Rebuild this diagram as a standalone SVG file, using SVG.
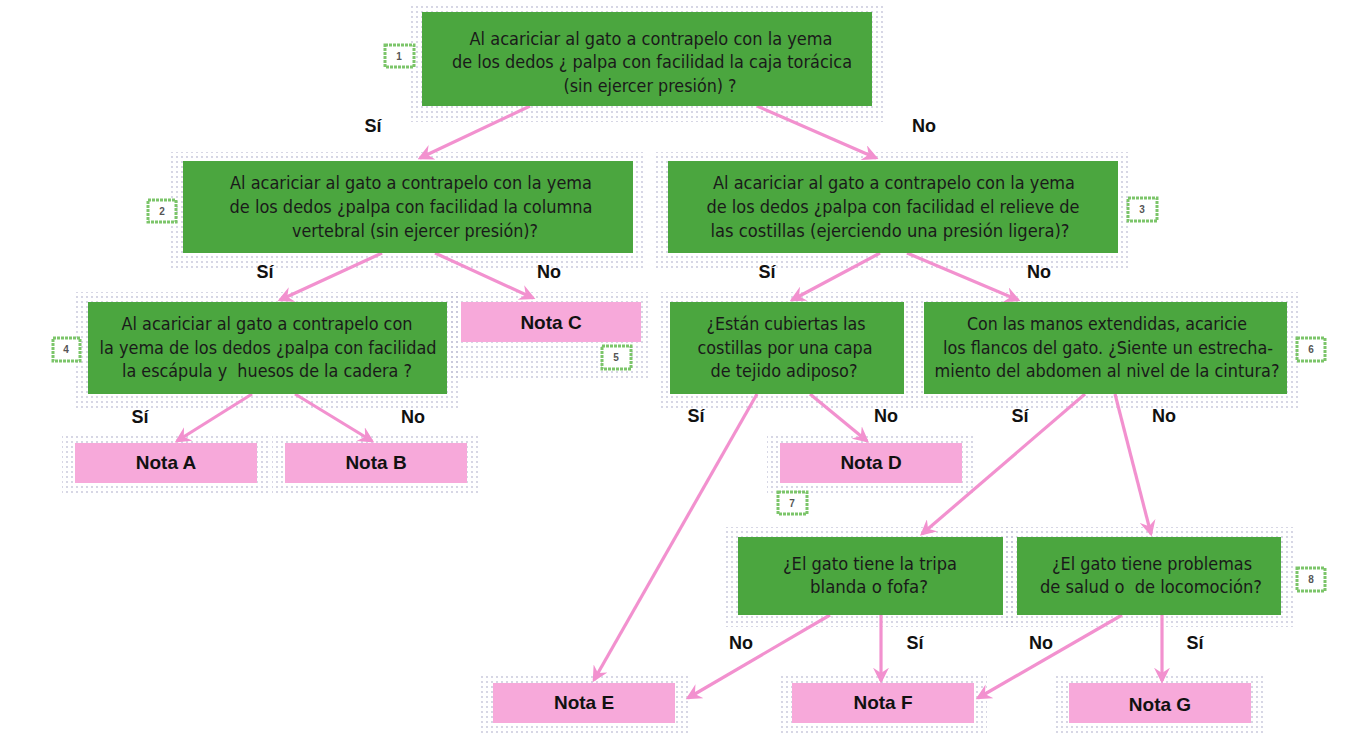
<svg xmlns="http://www.w3.org/2000/svg" width="1363" height="756" viewBox="0 0 1363 756">
<style>
.q{fill:#4ba63f}
.n{fill:#f7a9da}
.dots{fill:url(#dp)}
.t{font-family:"Liberation Sans Narrow","DejaVu Sans Condensed","Liberation Sans",sans-serif;font-size:18.5px;fill:#1a1a1a;text-anchor:middle}
.b{font-family:"Liberation Sans",Arial,sans-serif;font-weight:bold;font-size:19px;fill:#111;text-anchor:middle}
.lb{font-family:"Liberation Sans",Arial,sans-serif;font-weight:bold;font-size:18px;fill:#111;text-anchor:middle}
.badge{fill:#fff;stroke:#7cc56a;stroke-width:3;stroke-dasharray:3 1}
.bn{font-family:"Liberation Sans",Arial,sans-serif;font-size:10px;font-weight:bold;fill:#555;text-anchor:middle}
.c{stroke:#f291cf;stroke-width:3.2;fill:none;marker-end:url(#ah)}
</style>
<defs>
<pattern id="dp" width="5" height="5" patternUnits="userSpaceOnUse">
<circle cx="2" cy="2" r="0.9" fill="#c4c4d8"/>
</pattern>
<marker id="ah" viewBox="0 0 12 12" refX="10" refY="6" markerWidth="5" markerHeight="5" orient="auto" markerUnits="strokeWidth">
<path d="M0,0 L12,6 L0,12 L4,6 Z" fill="#f291cf"/>
</marker>
</defs>
<rect width="1363" height="756" fill="#fff"/>
<g id="shadows">
<rect class="dots" x="410" y="4" width="475" height="118"/>
<rect class="dots" x="170" y="152" width="476" height="116"/>
<rect class="dots" x="655" y="152" width="476" height="116"/>
<rect class="dots" x="76" y="292" width="384" height="116"/>
<rect class="dots" x="450" y="292" width="200" height="86"/>
<rect class="dots" x="658" y="292" width="258" height="116"/>
<rect class="dots" x="912" y="292" width="388" height="116"/>
<rect class="dots" x="62" y="433" width="208" height="62"/>
<rect class="dots" x="272" y="433" width="208" height="62"/>
<rect class="dots" x="767" y="433" width="208" height="62"/>
<rect class="dots" x="726" y="527" width="290" height="100"/>
<rect class="dots" x="1005" y="527" width="290" height="100"/>
<rect class="dots" x="480" y="673" width="208" height="62"/>
<rect class="dots" x="779" y="673" width="208" height="62"/>
<rect class="dots" x="1056" y="673" width="208" height="62"/>
</g>
<g id="connectors">
<line class="c" x1="530" y1="106" x2="420" y2="158"/>
<line class="c" x1="757" y1="106" x2="876" y2="158"/>
<line class="c" x1="382" y1="253" x2="280" y2="300"/>
<line class="c" x1="435" y1="253" x2="533" y2="298"/>
<line class="c" x1="880" y1="253" x2="792" y2="300"/>
<line class="c" x1="907" y1="253" x2="1018" y2="300"/>
<line class="c" x1="252" y1="394" x2="177" y2="441"/>
<line class="c" x1="295" y1="394" x2="372" y2="441"/>
<line class="c" x1="757" y1="394" x2="594" y2="680"/>
<line class="c" x1="810" y1="394" x2="867" y2="441"/>
<line class="c" x1="1085" y1="394" x2="922" y2="534"/>
<line class="c" x1="1115" y1="394" x2="1151" y2="534"/>
<line class="c" x1="830" y1="615" x2="688" y2="698"/>
<line class="c" x1="881" y1="615" x2="881" y2="681"/>
<line class="c" x1="1122" y1="615" x2="978" y2="698"/>
<line class="c" x1="1162" y1="615" x2="1162" y2="681"/>
</g>
<g id="node1">
<rect class="q" x="422" y="12" width="450" height="94"/>
<text class="t" x="651" y="45" textLength="363" lengthAdjust="spacingAndGlyphs">Al acariciar al gato a contrapelo con la yema</text>
<text class="t" x="652" y="68" textLength="400" lengthAdjust="spacingAndGlyphs">de los dedos ¿ palpa con facilidad la caja torácica</text>
<text class="t" x="650" y="92" textLength="173" lengthAdjust="spacingAndGlyphs">(sin ejercer presión) ?</text>
<rect class="badge" x="385" y="45" width="29" height="22"/>
<text class="bn" x="399" y="60">1</text>
</g>
<g id="node2">
<rect class="q" x="183" y="161" width="450" height="92"/>
<text class="t" x="411" y="189" textLength="362" lengthAdjust="spacingAndGlyphs">Al acariciar al gato a contrapelo con la yema</text>
<text class="t" x="411" y="213" textLength="363" lengthAdjust="spacingAndGlyphs">de los dedos ¿palpa con facilidad la columna</text>
<text class="t" x="415" y="237" textLength="246" lengthAdjust="spacingAndGlyphs">vertebral (sin ejercer presión)?</text>
<rect class="badge" x="148" y="200" width="28" height="22"/>
<text class="bn" x="162" y="215">2</text>
</g>
<g id="node3">
<rect class="q" x="668" y="161" width="450" height="92"/>
<text class="t" x="894" y="189" textLength="362" lengthAdjust="spacingAndGlyphs">Al acariciar al gato a contrapelo con la yema</text>
<text class="t" x="893" y="213" textLength="373" lengthAdjust="spacingAndGlyphs">de los dedos ¿palpa con facilidad el relieve de</text>
<text class="t" x="890" y="237" textLength="359" lengthAdjust="spacingAndGlyphs">las costillas (ejerciendo una presión ligera)?</text>
<rect class="badge" x="1128" y="198" width="29" height="23"/>
<text class="bn" x="1142" y="213">3</text>
</g>
<g id="node4">
<rect class="q" x="88" y="302" width="359" height="92"/>
<text class="t" x="267" y="330" textLength="291" lengthAdjust="spacingAndGlyphs">Al acariciar al gato a contrapelo con</text>
<text class="t" x="268" y="354" textLength="337" lengthAdjust="spacingAndGlyphs">la yema de los dedos ¿palpa con facilidad</text>
<text class="t" x="267" y="377" textLength="290" lengthAdjust="spacingAndGlyphs" xml:space="preserve">la escápula y  huesos de la cadera ?</text>
<rect class="badge" x="53" y="338" width="27" height="23"/>
<text class="bn" x="66" y="353">4</text>
</g>
<g id="notaC">
<rect class="n" x="461" y="302" width="180" height="40"/>
<text class="b" x="551" y="329">Nota C</text>
<rect class="badge" x="602" y="346" width="29" height="23"/>
<text class="bn" x="616" y="361">5</text>
</g>
<g id="node5">
<rect class="q" x="670" y="302" width="234" height="92"/>
<text class="t" x="786" y="330" textLength="159" lengthAdjust="spacingAndGlyphs">¿Están cubiertas las</text>
<text class="t" x="785" y="354" textLength="175" lengthAdjust="spacingAndGlyphs">costillas por una capa</text>
<text class="t" x="784" y="377" textLength="147" lengthAdjust="spacingAndGlyphs">de tejido adiposo?</text>
</g>
<g id="node6">
<rect class="q" x="924" y="302" width="363" height="92"/>
<text class="t" x="1107" y="330" textLength="280" lengthAdjust="spacingAndGlyphs">Con las manos extendidas, acaricie</text>
<text class="t" x="1108" y="354" textLength="330" lengthAdjust="spacingAndGlyphs">los flancos del gato. ¿Siente un estrecha-</text>
<text class="t" x="1107" y="377" textLength="345" lengthAdjust="spacingAndGlyphs">miento del abdomen al nivel de la cintura?</text>
<rect class="badge" x="1297" y="338" width="28" height="23"/>
<text class="bn" x="1311" y="353">6</text>
</g>
<g id="notaA">
<rect class="n" x="75" y="443" width="182" height="40"/>
<text class="b" x="166" y="469">Nota A</text>
</g>
<g id="notaB">
<rect class="n" x="285" y="443" width="182" height="40"/>
<text class="b" x="376" y="469">Nota B</text>
</g>
<g id="notaD">
<rect class="n" x="780" y="443" width="182" height="40"/>
<text class="b" x="871" y="469">Nota D</text>
<rect class="badge" x="778" y="492" width="29" height="22"/>
<text class="bn" x="792" y="507">7</text>
</g>
<g id="node7">
<rect class="q" x="738" y="537" width="265" height="78"/>
<text class="t" x="870" y="570" textLength="174" lengthAdjust="spacingAndGlyphs">¿El gato tiene la tripa</text>
<text class="t" x="869" y="593" textLength="118" lengthAdjust="spacingAndGlyphs">blanda o fofa?</text>
</g>
<g id="node8">
<rect class="q" x="1017" y="537" width="264" height="78"/>
<text class="t" x="1152" y="570" textLength="200" lengthAdjust="spacingAndGlyphs">¿El gato tiene problemas</text>
<text class="t" x="1151" y="593" textLength="222" lengthAdjust="spacingAndGlyphs" xml:space="preserve">de salud o  de locomoción?</text>
<rect class="badge" x="1297" y="568" width="28" height="23"/>
<text class="bn" x="1311" y="583">8</text>
</g>
<g id="notaE">
<rect class="n" x="493" y="683" width="182" height="40"/>
<text class="b" x="584" y="709">Nota E</text>
</g>
<g id="notaF">
<rect class="n" x="792" y="683" width="182" height="40"/>
<text class="b" x="883" y="709">Nota F</text>
</g>
<g id="notaG">
<rect class="n" x="1069" y="683" width="182" height="40"/>
<text class="b" x="1160" y="711">Nota G</text>
</g>
<g id="labels">
<text class="lb" x="373" y="132">Sí</text>
<text class="lb" x="924" y="132">No</text>
<text class="lb" x="265" y="278">Sí</text>
<text class="lb" x="549" y="278">No</text>
<text class="lb" x="767" y="278">Sí</text>
<text class="lb" x="1039" y="278">No</text>
<text class="lb" x="140" y="423">Sí</text>
<text class="lb" x="413" y="423">No</text>
<text class="lb" x="696" y="422">Sí</text>
<text class="lb" x="886" y="422">No</text>
<text class="lb" x="1020" y="422">Sí</text>
<text class="lb" x="1164" y="422">No</text>
<text class="lb" x="741" y="649">No</text>
<text class="lb" x="915" y="649">Sí</text>
<text class="lb" x="1041" y="649">No</text>
<text class="lb" x="1195" y="649">Sí</text>
</g>
</svg>
